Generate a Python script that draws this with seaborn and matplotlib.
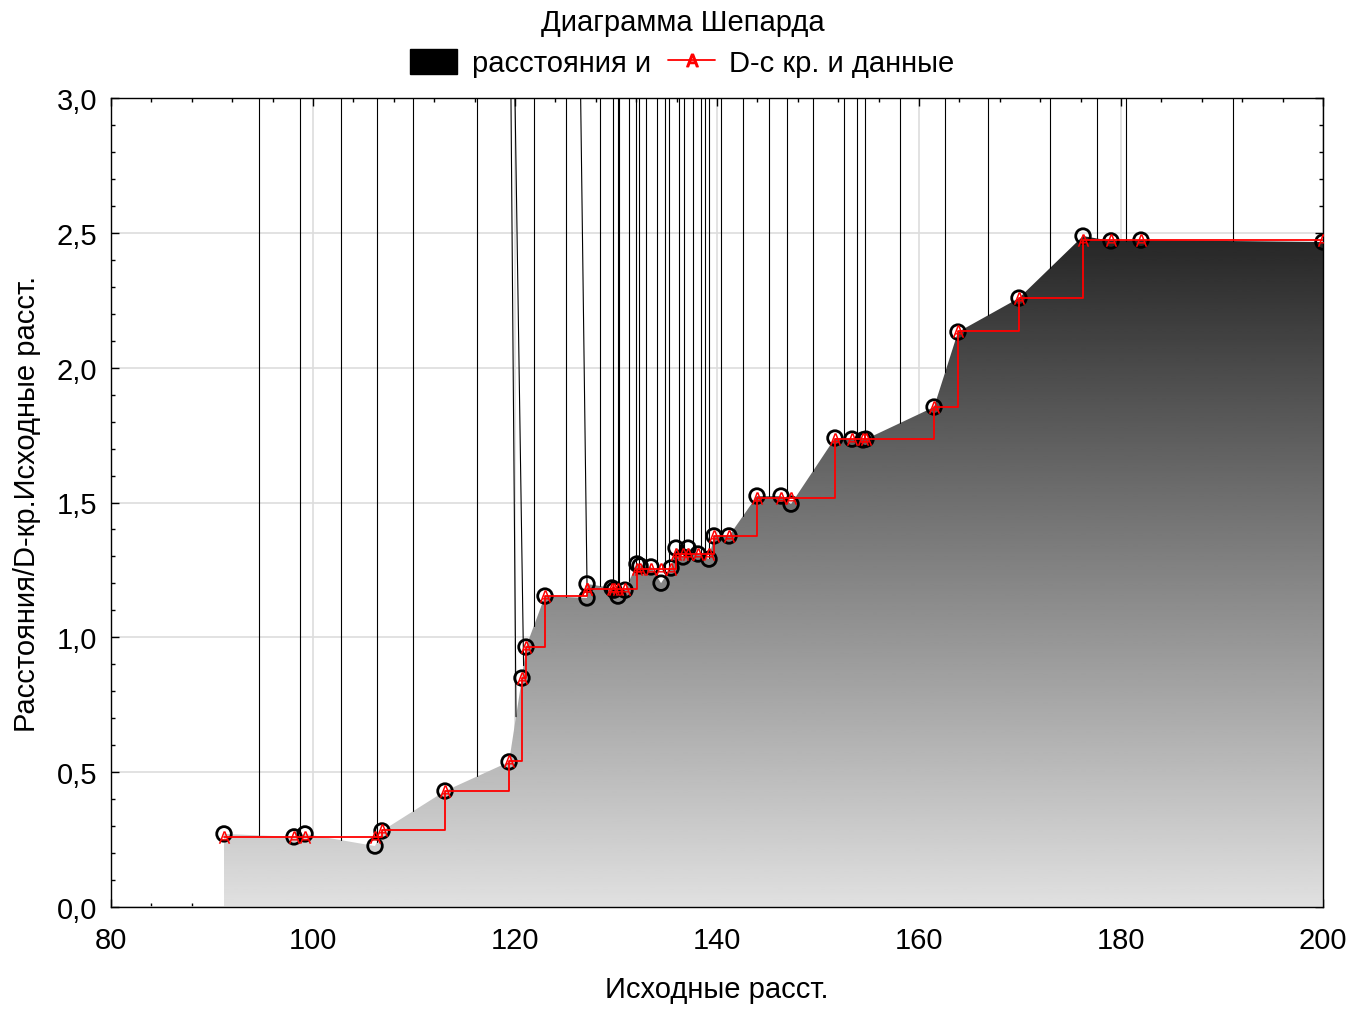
import numpy as np
import pandas as pd
import matplotlib
matplotlib.use("Agg")
import matplotlib.pyplot as plt
import seaborn as sns
from matplotlib.patches import Patch, Polygon
from matplotlib.lines import Line2D
from matplotlib.ticker import MultipleLocator, FuncFormatter

# source distances (x), observed distances (circles), D-hat step values (red)
src_dist = [91.19, 98.12, 99.21, 106.14, 106.83, 113.07, 119.41, 120.69, 121.09, 122.97,
            127.13, 127.13, 129.60, 129.80, 130.20, 130.89, 132.08, 132.38, 133.47, 134.46,
            135.45, 135.94, 136.63, 137.13, 138.12, 139.21, 139.70, 141.19, 143.96, 146.34,
            147.33, 151.68, 153.37, 154.46, 154.75, 161.49, 163.86, 169.90, 176.24, 179.01,
            181.98, 200.00]
distances = [0.271, 0.260, 0.271, 0.226, 0.282, 0.430, 0.538, 0.849, 0.964, 1.153,
             1.146, 1.198, 1.183, 1.175, 1.153, 1.175, 1.272, 1.265, 1.261, 1.201,
             1.257, 1.331, 1.298, 1.331, 1.309, 1.290, 1.376, 1.376, 1.524, 1.524,
             1.494, 1.739, 1.735, 1.732, 1.735, 1.854, 2.132, 2.258, 2.488, 2.470,
             2.473, 2.466]
dhat = [0.260, 0.260, 0.260, 0.260, 0.285, 0.430, 0.540, 0.850, 0.964, 1.153,
        1.178, 1.178, 1.178, 1.178, 1.178, 1.178, 1.255, 1.255, 1.255, 1.255,
        1.255, 1.309, 1.309, 1.309, 1.309, 1.309, 1.376, 1.376, 1.517, 1.517,
        1.517, 1.735, 1.735, 1.735, 1.735, 1.854, 2.135, 2.258, 2.474, 2.474,
        2.474, 2.474]

# outline spikes of the distance area (top x at y=3, foot x on the surface)
spike_top = [94.65, 98.71, 102.74, 106.34, 109.90, 116.24, 119.60, 120.00, 121.88, 125.05,
             126.50, 128.42, 129.73, 130.20, 130.33, 131.32, 131.98, 132.31, 132.97, 134.09,
             134.85, 135.28, 136.27, 136.73, 137.65, 138.39, 138.81, 139.24, 140.40, 142.54,
             145.18, 146.90, 149.48, 152.57, 153.89, 154.65, 158.15, 162.60, 166.83, 173.00,
             177.59, 180.47, 191.06]
spike_foot = [94.65, 98.71, 102.74, 106.34, 109.90, 116.24, 120.10, 120.85, 121.88, 125.05,
              127.13, 128.42, 129.73, 130.20, 130.33, 131.32, 131.98, 132.31, 132.97, 134.09,
              134.85, 135.28, 136.27, 136.73, 137.65, 138.39, 138.81, 139.24, 140.40, 142.54,
              145.18, 146.90, 149.48, 152.57, 153.89, 154.65, 158.15, 162.60, 166.83, 173.00,
              177.59, 180.47, 191.06]

df = pd.DataFrame({"src": src_dist, "dist": distances, "dhat": dhat})

sns.set_style("ticks")
plt.rcParams["font.family"] = ["Liberation Sans", "DejaVu Sans"]
plt.rcParams["font.size"] = 21
for key in ["text.color", "axes.labelcolor", "xtick.color", "ytick.color"]:
    plt.rcParams[key] = "black"

fig = plt.figure(figsize=(13.65, 10.12), dpi=100)
ax = fig.add_axes([111 / 1365, 1 - 908 / 1012, (1323 - 111) / 1365, (908 - 99) / 1012])

ax.set_xlim(80, 200)
ax.set_ylim(0, 3.0)

# gradient filled area under the distances
xs = df["src"].to_numpy()
ys = df["dist"].to_numpy()
verts = [(xs[0], 0)] + list(zip(xs, ys)) + [(xs[-1], 0)]
poly = Polygon(verts, closed=True, facecolor="none", edgecolor="none")
ax.add_patch(poly)
ytop = ys.max()
grad = np.linspace(0.88, 0.15, 256).reshape(-1, 1)
img = ax.imshow(grad, extent=[80, 200, 0, ytop], origin="lower", aspect="auto",
                cmap="gray", vmin=0, vmax=1, zorder=1, interpolation="bilinear")
img.set_clip_path(poly)

# spikes from the surface up to the top
for xt, xf in zip(spike_top, spike_foot):
    yf = np.interp(xf, xs, ys)
    ax.plot([xt, xf], [3.0, yf], color="black", lw=0.8, zorder=2)

sns.scatterplot(data=df, x="src", y="dist", ax=ax, marker="o", s=110,
                facecolor="none", edgecolor="black", linewidth=2.0, zorder=3,
                legend=False, clip_on=True)
sns.lineplot(data=df, x="src", y="dhat", ax=ax, color="red", lw=1.3,
             drawstyle="steps-post", estimator=None, sort=False, zorder=4,
             legend=False)
sns.scatterplot(data=df, x="src", y="dhat", ax=ax, marker=r"$\mathsf{A}$", s=80,
                color="red", linewidth=0, zorder=5, legend=False)

ax.set_axisbelow(True)
ax.grid(True, which="major", color="#dddddd", lw=1.2)
ax.xaxis.set_major_locator(MultipleLocator(20))
ax.xaxis.set_minor_locator(MultipleLocator(4))
ax.yaxis.set_major_locator(MultipleLocator(0.5))
ax.yaxis.set_minor_locator(MultipleLocator(0.1))
ax.yaxis.set_major_formatter(FuncFormatter(lambda v, p: f"{v:.1f}".replace(".", ",")))
ax.xaxis.set_major_formatter(FuncFormatter(lambda v, p: f"{v:.0f}"))
ax.tick_params(which="both", direction="in", top=True, right=True, labelsize=21,
               colors="black")
ax.tick_params(which="major", length=6, width=1)
ax.tick_params(axis="x", which="major", pad=14)
ax.tick_params(axis="y", which="major", pad=10)
ax.tick_params(which="minor", length=3, width=1)
for s in ax.spines.values():
    s.set_color("black")
    s.set_linewidth(1.0)

ax.set_xlabel("Исходные расст.", fontsize=21, labelpad=15)
ax.set_ylabel("Расстояния/D-кр.Исходные расст.", fontsize=21, labelpad=11)

fig.text(0.5, 1 - 23 / 1012, "Диаграмма Шепарда", ha="center", va="center", fontsize=21)
handles = [Patch(facecolor="black", edgecolor="black"),
           Line2D([], [], color="red", lw=1.3, marker=r"$\mathsf{A}$", markersize=9)]
fig.legend(handles, ["расстояния и", "D-с кр. и данные"], loc="center",
           bbox_to_anchor=(0.5, 1 - 64 / 1012), ncol=2, frameon=False, fontsize=21,
           handlelength=1.6, handleheight=0.95, columnspacing=0.6, handletextpad=0.5)

fig.savefig("out.png", dpi=100)
